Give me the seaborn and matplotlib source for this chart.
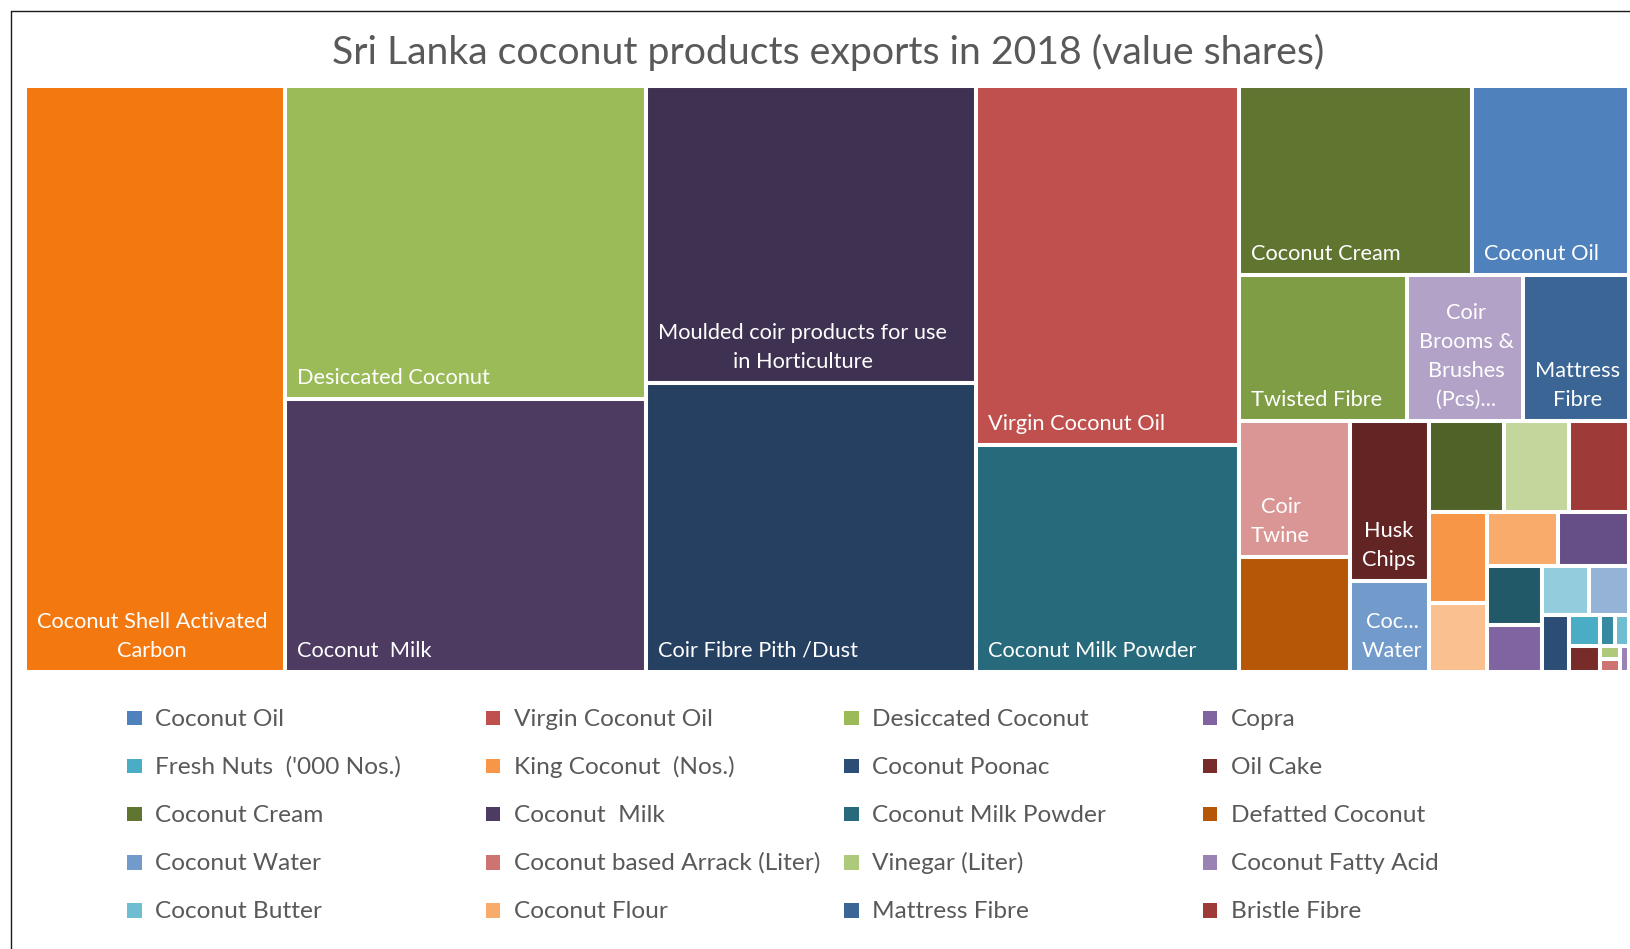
import matplotlib
matplotlib.use("Agg")
import matplotlib.pyplot as plt
from matplotlib.patches import Rectangle
from matplotlib.lines import Line2D
import seaborn as sns

sns.set_theme(style="white")
plt.rcParams["font.family"] = ["Lato", "DejaVu Sans"]

# ---- data: export value shares (%) in series order -------------------------
products = [
    "Coconut Oil", "Virgin Coconut Oil", "Desiccated Coconut", "Copra",
    "Fresh Nuts  ('000 Nos.)", "King Coconut  (Nos.)", "Coconut Poonac", "Oil Cake",
    "Coconut Cream", "Coconut  Milk", "Coconut Milk Powder", "Defatted Coconut",
    "Coconut Water", "Coconut based Arrack (Liter)", "Vinegar (Liter)", "Coconut Fatty Acid",
    "Coconut Butter", "Coconut Flour", "Mattress Fibre", "Bristle Fibre",
    "Twisted Fibre", "Coir Yarn", "Coir Pots", "Coconut Shell Activated Carbon",
    "Geo Textiles", "Coir Twine", "Coir Mats & Rugs", "Coir Brooms & Brushes (Pcs)",
    "Coir Rope", "Coconut Shell Charcoal", "Coir Fibre Pith /Dust", "Husk Chips",
    "Coir Mattresses", "Moulded coir products for use in Horticulture", "Coconut Shell Flour",
]
shares = [
    3.15, 10.05, 12.0, 0.271,
    0.104, 0.56, 0.165, 0.085,
    4.7, 10.5, 6.35, 1.36,
    0.76, 0.027, 0.028, 0.026,
    0.048, 0.41, 1.64, 0.58,
    2.6, 0.405, 0.049, 16.2,
    0.204, 1.6, 0.63, 1.8,
    0.246, 0.425, 10.1, 1.34,
    0.73, 10.4, 0.345,
]
colors = [
    "#4F81BD", "#C0504D", "#9BBB59", "#8064A2",
    "#4BACC6", "#F79646", "#2C4D75", "#772C2A",
    "#5F7530", "#4D3B62", "#276A7C", "#B65708",
    "#729ACA", "#CD7371", "#AFC97A", "#9983B5",
    "#6FBDD1", "#F9AB6B", "#3A6595", "#9E3B38",
    "#7E9D45", "#664E87", "#3589A0", "#F3780F",
    "#95B3D7", "#D99694", "#C3D69B", "#B3A2C7",
    "#93CDDD", "#FAC090", "#254061", "#632523",
    "#4F6228", "#3F3151", "#215968",
]
# text shown inside a tile (tiles too small for text are left out)
tile_labels = {
    "Coconut Shell Activated Carbon": "Coconut Shell Activated\nCarbon",
    "Desiccated Coconut": "Desiccated Coconut",
    "Coconut  Milk": "Coconut  Milk",
    "Moulded coir products for use in Horticulture": "Moulded coir products for use\nin Horticulture",
    "Coir Fibre Pith /Dust": "Coir Fibre Pith /Dust",
    "Virgin Coconut Oil": "Virgin Coconut Oil",
    "Coconut Milk Powder": "Coconut Milk Powder",
    "Coconut Cream": "Coconut Cream",
    "Coconut Oil": "Coconut Oil",
    "Twisted Fibre": "Twisted Fibre",
    "Coir Brooms & Brushes (Pcs)": "Coir\nBrooms &\nBrushes\n(Pcs)...",
    "Mattress Fibre": "Mattress\nFibre",
    "Coir Twine": "Coir\nTwine",
    "Husk Chips": "Husk\nChips",
    "Coconut Water": "Coc...\nWater",
}
legend_count = 20
title = "Sri Lanka coconut products exports in 2018 (value shares)"

palette = dict(zip(products, sns.color_palette(colors)))

# ---- squarified layout (tall tiles are preferred over wide ones) -----------
WIDE_PENALTY = 1.285


def strip_score(vals, length, column):
    thick = sum(vals) / length
    score = 0.0
    for v in vals:
        span = v / thick
        w, h = (thick, span) if column else (span, thick)
        score = max(score, h / w, WIDE_PENALTY * w / h)
    return score


def squarify(values, x, y, w, h):
    total = sum(values)
    vals = [v * w * h / total for v in values]
    rects = []
    i = 0
    while i < len(vals):
        column = w >= h
        length = h if column else w
        j = i + 1
        best = strip_score(vals[i:j], length, column)
        while j < len(vals):
            s = strip_score(vals[i:j + 1], length, column)
            if s > best:
                break
            best = s
            j += 1
        strip = vals[i:j]
        thick = sum(strip) / length
        pos = y if column else x
        for v in strip:
            span = v / thick
            rects.append((x, pos, thick, span) if column else (pos, y, span, thick))
            pos += span
        if column:
            x += thick
            w -= thick
        else:
            y += thick
            h -= thick
        i = j
    return rects


order = sorted(range(len(products)), key=lambda k: -shares[k])

FIG_W, FIG_H = 1630, 949
TM_X0, TM_Y0, TM_W, TM_H = 25, 86, 1604, 586

fig = plt.figure(figsize=(FIG_W / 100, FIG_H / 100), dpi=100)
fig.patch.set_facecolor("white")

ax = fig.add_axes([TM_X0 / FIG_W, 1 - (TM_Y0 + TM_H) / FIG_H, TM_W / FIG_W, TM_H / FIG_H])
ax.set_xlim(0, TM_W)
ax.set_ylim(TM_H, 0)
ax.axis("off")

rects = squarify([shares[k] for k in order], 0, 0, TM_W, TM_H)
for k, (x, y, w, h) in zip(order, rects):
    name = products[k]
    ax.add_patch(Rectangle((x, y), w, h, facecolor=palette[name],
                           edgecolor="white", linewidth=2.9))
    if name in tile_labels:
        ax.text(x + 12, y + h - 11, tile_labels[name], color="white",
                fontsize=15.7, ha="left", va="bottom", multialignment="center",
                linespacing=1.56)

# ---- overlay in figure pixels: frame, title, legend ----------------------
ov = fig.add_axes([0, 0, 1, 1], zorder=-1)
ov.set_xlim(0, FIG_W)
ov.set_ylim(FIG_H, 0)
ov.axis("off")
ov.add_line(Line2D([10.5, FIG_W + 5], [10.5, 10.5], color="#1a1a1a", lw=1.0))
ov.add_line(Line2D([10.5, 10.5], [10.5, FIG_H + 5], color="#1a1a1a", lw=1.0))

ov.text(828, 52, title, fontsize=28.3, color="#595959", ha="center", va="center")

LEG_X0, LEG_Y0, COL_STEP, ROW_STEP, BOX = 127, 719, 358.6, 48.1, 14.5
for n, k in enumerate(range(legend_count)):
    r, c = divmod(n, 4)
    lx = LEG_X0 + c * COL_STEP
    ly = LEG_Y0 + r * ROW_STEP
    ov.add_patch(Rectangle((lx, ly - BOX / 2 - 1), BOX, BOX,
                           facecolor=palette[products[k]], edgecolor="none"))
    ov.text(lx + 28, ly, products[k], fontsize=17.6, color="#595959",
            ha="left", va="center")

fig.savefig("out.png", dpi=100, facecolor="white")
